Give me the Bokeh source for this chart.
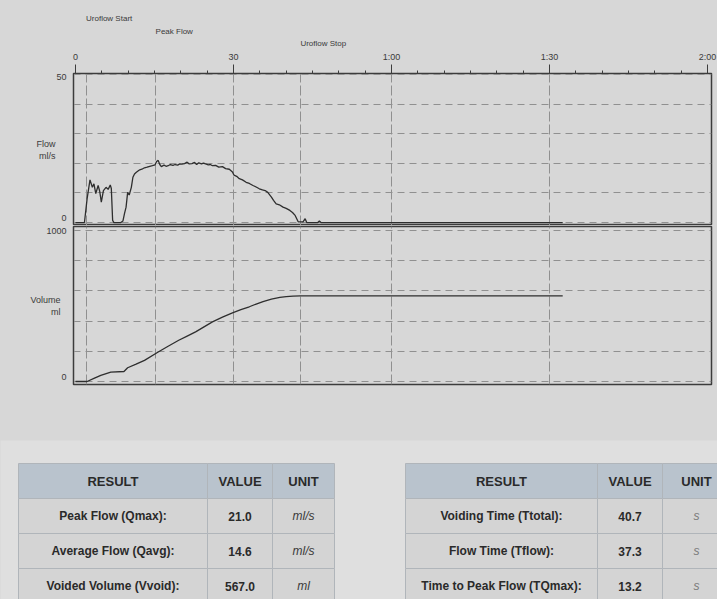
from bokeh.plotting import figure
from bokeh.layouts import column
from bokeh.models import Range1d, FixedTicker, LinearAxis, ColumnDataSource
from bokeh.core.properties import value
from bokeh.embed import file_html
from bokeh.resources import INLINE

# ---------------- data ----------------
flow_time = [0, 1.7, 2.2, 2.75, 3.2, 3.5, 3.85, 4.3, 4.6, 4.9, 5.3, 5.8, 6.2, 6.6, 6.8,
             7.05, 7.3, 8.6, 9.0, 9.3, 9.6, 9.9, 10.2, 10.6, 10.9, 11.2, 11.5, 11.8, 12.2,
             12.6, 13.1, 13.6, 14.1, 14.6, 15.1, 15.4, 15.7, 16.0, 16.3, 16.8, 17.2, 17.6,
             18.0, 18.5, 18.9, 19.4, 19.8, 20.2, 20.7, 21.2, 21.6, 22.1, 22.6, 23.0, 23.4,
             23.9, 24.3, 24.7, 25.2, 25.6, 26.0, 26.6, 27.2, 27.9, 28.5, 29.2, 29.8, 30.1,
             30.6, 31.1, 31.7, 32.4, 33.0, 33.7, 34.3, 34.9, 35.5, 36.0, 36.5, 37.2, 37.6,
             38.1, 38.7, 39.4, 40.0, 40.7, 41.2, 41.7, 42.3, 43.2, 43.6, 43.9, 46.0, 46.3,
             46.6, 92.5]
flow_rate = [0, 0, 8.0, 14.4, 11.9, 13.1, 9.8, 12.5, 10.5, 6.9, 10.8, 11.9, 11.2, 12.7, 11.5,
             0.7, 0, 0, 0.5, 3.0, 5.2, 10.2, 9.3, 11.9, 15.3, 16.4, 16.9, 17.3, 17.8,
             18.0, 18.5, 18.7, 19.0, 19.2, 19.5, 20.6, 21.0, 19.6, 18.9, 19.4, 19.0, 19.2,
             19.6, 19.3, 19.6, 19.4, 19.8, 19.7, 19.9, 20.4, 19.8, 19.9, 20.3, 19.6, 20.2,
             19.8, 20.1, 19.8, 19.5, 19.6, 19.2, 19.3, 18.7, 18.9, 18.2, 18.0, 17.1, 16.0,
             15.6, 14.8, 14.4, 13.6, 13.2, 12.5, 12.0, 11.4, 11.0, 10.8, 10.2, 8.6, 7.5,
             6.3, 6.0, 5.2, 4.8, 4.1, 3.4, 2.4, 0.2, 0.2, 1.3, 0, 0, 0.5,
             0, 0]

volume_time = [0, 2.2, 3.5, 4.8, 6.7, 9.2, 9.9, 11.5, 13.1, 15.7, 17.5, 19.6, 21.2, 22.8,
               24.4, 26.0, 27.9, 29.8, 31.4, 33.0, 34.3, 35.6, 37.2, 38.8, 40.0, 41.3,
               42.7, 44.5, 92.5]
volume_ml = [0, 0, 20, 40, 62, 66, 91, 115, 140, 195, 232, 273, 301, 329,
             362, 395, 426, 455, 476, 495, 513, 529, 545, 557, 562, 566,
             567, 567, 567]

time_ticks = [0, 30, 60, 90, 120]
time_tick_labels = ["0", "30", "1:00", "1:30", "2:00"]
minor_time_ticks = [0, 5, 10, 15, 20, 25, 30, 35, 40, 45, 50, 55, 60,
                    65, 70, 75, 80, 85, 90, 95, 100, 105, 110, 115, 120]
event_names = ["Uroflow Start", "Peak Flow", "Uroflow Stop"]
event_times = [2.0, 15.2, 42.7]

flow_ticks = [0, 10, 20, 30, 40, 50]
flow_labels = ["0", "50"]
volume_ticks = [0, 200, 400, 600, 800, 1000]
volume_labels = ["0", "1000"]
flow_axis_title = "Flow\nml/s"
volume_axis_title = "Volume\nml"

table_header = ["RESULT", "VALUE", "UNIT"]
left_results = ["Peak Flow (Qmax):", "Average Flow (Qavg):", "Voided Volume (Vvoid):"]
left_values = ["21.0", "14.6", "567.0"]
left_units = ["ml/s", "ml/s", "ml"]
right_results = ["Voiding Time (Ttotal):", "Flow Time (Tflow):", "Time to Peak Flow (TQmax):"]
right_values = ["40.7", "37.3", "13.2"]
right_units = ["s", "s", "s"]

# ---------------- style ----------------
FONT = "Liberation Sans"
BG = "#d7d7d7"
BG2 = "#dfdfdf"
INK = "#2e2e2e"
AXIS = "#3c3c3c"
GRID = "#909090"
LABEL = "#3a3a3a"

X_RANGE = (-0.38, 120.75)
FLOW_RANGE = (-1.0, 50.34)
VOLUME_RANGE = (-20, 1026.7)
# label placement nudges (in data units) that put tick labels where the print has them
FLOW_LABEL_POS = [1.7, 49.3]
VOLUME_LABEL_POS = [27, 1000]
EVENT_STANDOFF = [1, 0, 5]


def style_left_axis(p, ticks, label_pos, labels, title, standoff):
    ya = p.yaxis[0]
    ya.ticker = FixedTicker(ticks=label_pos)
    ya.major_label_overrides = dict(zip(label_pos, labels))
    ya.major_tick_out = 3
    ya.major_tick_in = 0
    ya.minor_tick_out = 0
    ya.minor_tick_in = 0
    ya.axis_line_color = AXIS
    ya.major_tick_line_color = None
    ya.major_label_standoff = 4
    ya.major_label_text_font = FONT
    ya.major_label_text_font_size = "9px"
    ya.major_label_text_color = LABEL
    ya.axis_label = title
    ya.axis_label_orientation = "horizontal"
    ya.axis_label_standoff = standoff
    ya.axis_label_text_font = FONT
    ya.axis_label_text_font_style = "normal"
    ya.axis_label_text_font_size = "9px"
    ya.axis_label_text_color = LABEL
    p.ygrid[0].ticker = FixedTicker(ticks=ticks)
    p.ygrid[0].grid_line_color = GRID
    p.ygrid[0].grid_line_dash = "7 5"
    p.ygrid[0].grid_line_width = 1
    p.xgrid[0].ticker = FixedTicker(ticks=time_ticks[1:-1] + event_times)
    p.xgrid[0].grid_line_color = GRID
    p.xgrid[0].grid_line_dash = "10 3"
    p.xgrid[0].grid_line_width = 1


# ---------------- flow panel ----------------
p1 = figure(width=717, height=225, x_range=Range1d(*X_RANGE), y_range=Range1d(*FLOW_RANGE),
            x_axis_location="above", output_backend="svg", toolbar_location=None,
            min_border_left=73, min_border_right=6, min_border_top=73, min_border_bottom=0,
            background_fill_color=BG, border_fill_color=BG,
            outline_line_color=AXIS, outline_line_width=1.5)
ax = p1.xaxis[0]
ax.ticker = FixedTicker(ticks=time_ticks, minor_ticks=minor_time_ticks)
ax.major_label_overrides = dict(zip(time_ticks, time_tick_labels))
ax.major_tick_out = 9
ax.major_tick_in = 0
ax.minor_tick_out = 3
ax.minor_tick_in = 0
ax.axis_line_color = AXIS
ax.major_tick_line_color = AXIS
ax.minor_tick_line_color = AXIS
ax.major_label_standoff = 3
ax.major_label_text_font = FONT
ax.major_label_text_font_size = "9px"
ax.major_label_text_color = LABEL
style_left_axis(p1, flow_ticks, FLOW_LABEL_POS, flow_labels, flow_axis_title, -2)

# event markers as extra top axes (nearest to the frame first)
for name, t, so in reversed(list(zip(event_names, event_times, EVENT_STANDOFF))):
    ea = LinearAxis(ticker=FixedTicker(ticks=[t]), major_label_overrides={t: name},
                    axis_line_color=None, major_tick_line_color=None,
                    minor_tick_line_color=None, major_tick_out=0, major_tick_in=0,
                    minor_tick_out=0, minor_tick_in=0, major_label_standoff=so,
                    major_label_orientation=0.0001, major_label_text_font=FONT,
                    major_label_text_font_size="8px", major_label_text_color=LABEL)
    p1.add_layout(ea, "above")

p1.line(flow_time, flow_rate, line_color=INK, line_width=1.3)

# ---------------- volume panel ----------------
p2 = figure(width=717, height=215, x_range=p1.x_range, y_range=Range1d(*VOLUME_RANGE),
            output_backend="svg", toolbar_location=None,
            min_border_left=73, min_border_right=6, min_border_top=1, min_border_bottom=56,
            background_fill_color=BG, border_fill_color=BG,
            outline_line_color=AXIS, outline_line_width=1.5)
p2.xaxis.visible = False
style_left_axis(p2, volume_ticks, VOLUME_LABEL_POS, volume_labels, volume_axis_title, -17)
p2.line(volume_time, volume_ml, line_color=INK, line_width=1.3)

# ---------------- results tables ----------------
p3 = figure(width=717, height=159, x_range=Range1d(0, 717), y_range=Range1d(599, 440),
            output_backend="svg", toolbar_location=None, min_border=0, frame_align=False,
            background_fill_color=BG2, border_fill_color=BG2, outline_line_color=None)
p3.axis.visible = False
p3.grid.visible = False

TOP, ROW_H = 463, 35


def build_table(x0, widths, results, values, units):
    edges = [x0]
    for w in widths:
        edges.append(edges[-1] + w)
    cells = dict(left=[], right=[], top=[], bottom=[], color=[])
    texts = dict(x=[], y=[], text=[], style=[], color=[], size=[])
    rows = [table_header] + [list(r) for r in zip(results, values, units)]
    for r, row in enumerate(rows):
        top = TOP + r * ROW_H
        for c, txt in enumerate(row):
            cells["left"].append(edges[c])
            cells["right"].append(edges[c + 1])
            cells["top"].append(top)
            cells["bottom"].append(top + ROW_H)
            cells["color"].append("#b9c3cd" if r == 0 else "#d4d4d4")
            texts["x"].append((edges[c] + edges[c + 1]) / 2)
            texts["y"].append(top + ROW_H / 2)
            texts["text"].append(txt)
            unit_cell = (r > 0 and c == 2)
            texts["style"].append("italic" if unit_cell else "bold")
            if unit_cell:
                texts["color"].append("#7a7a7a" if txt == "s" else "#3a3a3a")
            else:
                texts["color"].append("#2a2a2a")
            texts["size"].append("13px" if r == 0 else "12px")
    return cells, texts


for x0, widths, res, val, uni in [(18, [189, 65, 62], left_results, left_values, left_units),
                                  (405, [192, 65, 68], right_results, right_values, right_units)]:
    cells, texts = build_table(x0, widths, res, val, uni)
    p3.quad(left="left", right="right", top="top", bottom="bottom", fill_color="color",
            line_color="#b0b5ba", line_width=1, source=ColumnDataSource(cells))
    p3.text(x="x", y="y", text="text", text_align="center", text_baseline="middle",
            text_font=value(FONT), text_font_style="style", text_color="color",
            text_font_size="size", source=ColumnDataSource(texts))

layout = column(p1, p2, p3, spacing=0, styles={"background-color": BG})
open("out.html", "w").write(file_html(layout, INLINE))
